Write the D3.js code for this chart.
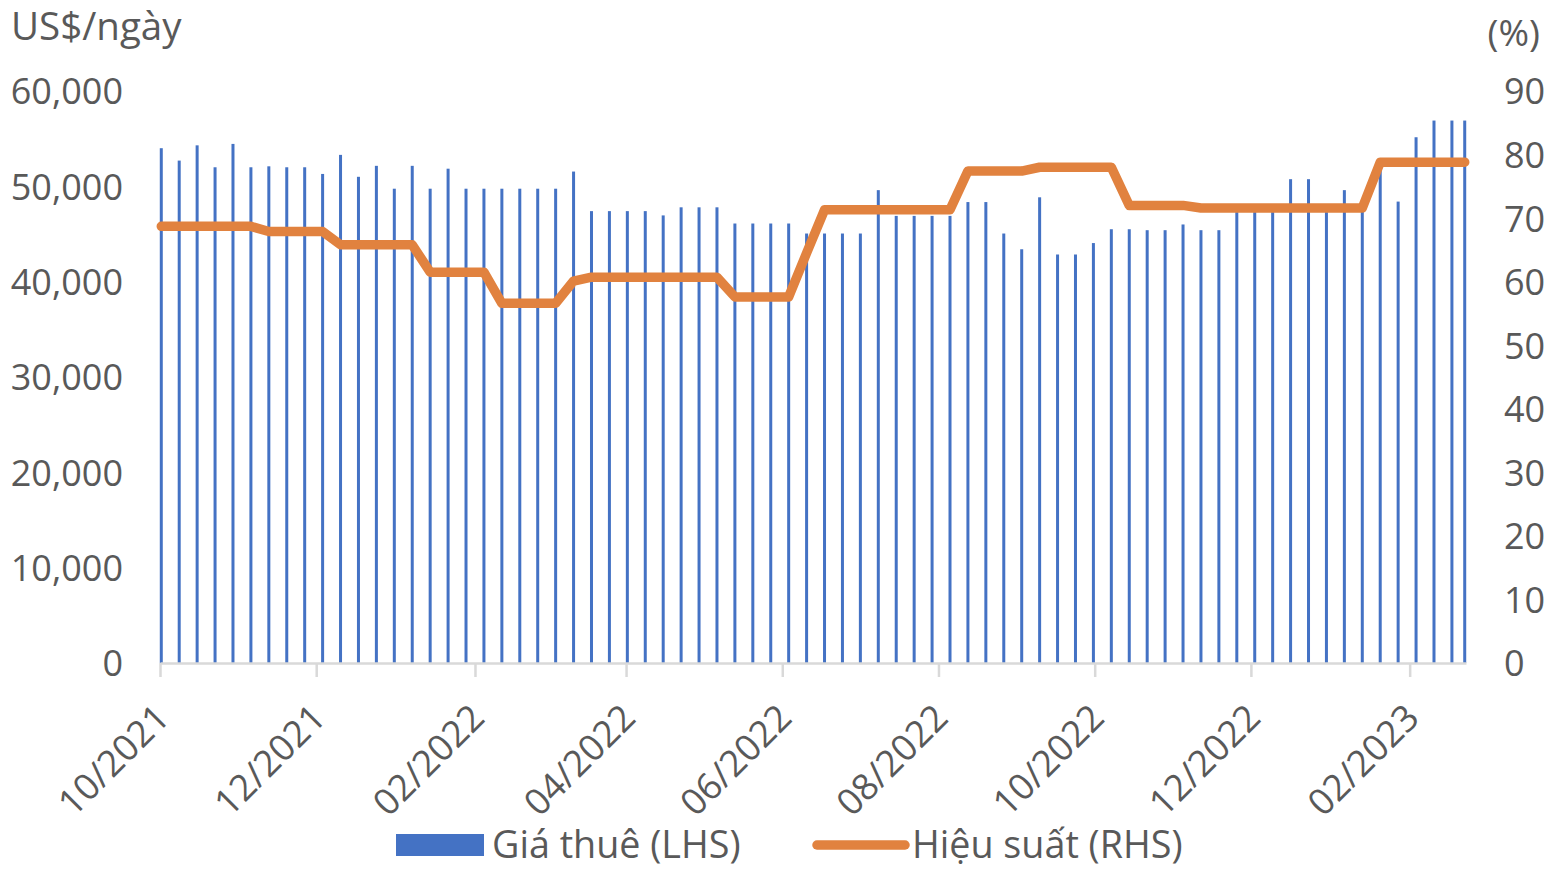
<!DOCTYPE html>
<html><head><meta charset="utf-8">
<script src="https://cdn.jsdelivr.net/npm/d3@7"></script>
<style>
body{margin:0;background:#fff;}
svg text{font-family:"Open Sans",sans-serif;fill:#595959;}
</style></head><body>
<svg id="chart" width="1566" height="878"></svg>
<script>
// ---- data ----
const dates = [
"2021-10-01","2021-10-08","2021-10-15","2021-10-22","2021-10-29",
"2021-11-05","2021-11-12","2021-11-19","2021-11-26",
"2021-12-03","2021-12-10","2021-12-17","2021-12-24","2021-12-31",
"2022-01-07","2022-01-14","2022-01-21","2022-01-28",
"2022-02-04","2022-02-11","2022-02-18","2022-02-25",
"2022-03-04","2022-03-11","2022-03-18","2022-03-25",
"2022-04-01","2022-04-08","2022-04-15","2022-04-22","2022-04-29",
"2022-05-06","2022-05-13","2022-05-20","2022-05-27",
"2022-06-03","2022-06-10","2022-06-17","2022-06-24",
"2022-07-01","2022-07-08","2022-07-15","2022-07-22","2022-07-29",
"2022-08-05","2022-08-12","2022-08-19","2022-08-26",
"2022-09-02","2022-09-09","2022-09-16","2022-09-23","2022-09-30",
"2022-10-07","2022-10-14","2022-10-21","2022-10-28",
"2022-11-04","2022-11-11","2022-11-18","2022-11-25",
"2022-12-02","2022-12-09","2022-12-16","2022-12-23","2022-12-30",
"2023-01-06","2023-01-13","2023-01-20","2023-01-27",
"2023-02-03","2023-02-10","2023-02-17","2023-02-22"
];
const charterRate = [
54000,52700,54300,52000,54450,
52000,52100,52000,52000,
51300,53300,51000,52150,49750,
52150,49750,51850,49750,
49750,49750,49750,49750,
49750,51550,47400,47400,
47400,47400,46950,47800,47800,
47800,46100,46100,46100,
46100,45050,45050,45050,
45050,49600,46900,46900,46900,
46900,48350,48350,45050,
43400,48850,42850,42850,44050,
45500,45500,45400,45400,
46000,45400,45400,47300,
47300,47300,50750,50750,47300,
49600,48100,52300,48400,
55150,56900,56900,56900
];
const efficiency = [
68.7,68.7,68.7,68.7,68.7,
68.7,67.9,67.9,67.9,
67.9,65.8,65.8,65.8,65.8,
65.8,61.5,61.5,61.5,
61.5,56.6,56.6,56.6,
56.6,60.1,60.7,60.7,
60.7,60.7,60.7,60.7,60.7,
60.7,57.6,57.6,57.6,
57.6,64.5,71.3,71.3,
71.3,71.3,71.3,71.3,71.3,
71.3,77.4,77.4,77.4,
77.4,78.0,78.0,78.0,78.0,
78.0,72.0,72.0,72.0,
72.0,71.6,71.6,71.6,
71.6,71.6,71.6,71.6,71.6,
71.6,71.6,78.8,78.8,
78.8,78.8,78.8,78.8
];
const leftTicks = [0,10000,20000,30000,40000,50000,60000];
const rightTicks = [0,10,20,30,40,50,60,70,80,90];
const xTickDates = ["2021-10-01","2021-12-01","2022-02-01","2022-04-01","2022-06-01","2022-08-01","2022-10-01","2022-12-01","2023-02-01"];
const xTickLabels = ["10/2021","12/2021","02/2022","04/2022","06/2022","08/2022","10/2022","12/2022","02/2023"];
const xDomain = ["2021-10-01","2023-02-23"];
const leftTitle = "US$/ngày";
const rightTitle = "(%)";
const seriesNames = ["Giá thuê (LHS)","Hiệu suất (RHS)"];

// ---- chart ----
const parse = d3.timeParse("%Y-%m-%d");
const svg = d3.select("#chart");
const blue = "#4472C4", orange = "#E1823F", grey = "#595959";
const FS = 36;

const x = d3.scaleTime().domain(xDomain.map(parse)).range([160, 1466]);
const yL = d3.scaleLinear().domain([0, 60000]).range([663, 91]);
const yR = d3.scaleLinear().domain([0, 90]).range([663, 91]);
const cx = d => x(d3.timeHour.offset(parse(d), 12));

const data = dates.map((d, i) => ({d, v: charterRate[i], e: efficiency[i]}));

// bars
svg.append("g").selectAll("rect").data(data).join("rect")
  .attr("x", d => cx(d.d) - 1.5)
  .attr("width", 3)
  .attr("y", d => yL(d.v))
  .attr("height", d => yL(0) - yL(d.v))
  .attr("fill", blue);

// x axis
const xAxis = d3.axisBottom(x)
  .tickValues(xTickDates.map(parse))
  .tickFormat((d, i) => xTickLabels[i])
  .tickSize(14).tickSizeOuter(0);
const gx = svg.append("g").attr("transform", "translate(0,663)").call(xAxis);
gx.select(".domain").attr("stroke", "#D9D9D9").attr("stroke-width", 2.5);
gx.selectAll(".tick line").attr("stroke", "#D9D9D9").attr("stroke-width", 2.5);
gx.selectAll(".tick text")
  .attr("x", 0).attr("y", 0).attr("dy", 0)
  .attr("text-anchor", "end")
  .attr("transform", "translate(11,57) rotate(-45)")
  .style("font-size", "36.5px").attr("fill", grey);

// left axis
const gl = svg.append("g").attr("transform", "translate(123,0)")
  .call(d3.axisLeft(yL).tickValues(leftTicks).tickFormat(d3.format(",")).tickSize(0).tickPadding(0));
gl.select(".domain").remove();
gl.selectAll(".tick text").attr("dy", "0.36em").style("font-size", FS + "px").attr("fill", grey);

// right axis
const gr = svg.append("g").attr("transform", "translate(1504,0)")
  .call(d3.axisRight(yR).tickValues(rightTicks).tickSize(0).tickPadding(0));
gr.select(".domain").remove();
gr.selectAll(".tick text").attr("dy", "0.36em").style("font-size", FS + "px").attr("fill", grey);

// line
const line = d3.line().x(d => cx(d.d)).y(d => yR(d.e));
svg.append("path").datum(data)
  .attr("d", line)
  .attr("fill", "none").attr("stroke", orange)
  .attr("stroke-width", 9.5).attr("stroke-linejoin", "round").attr("stroke-linecap", "round");

// titles
svg.append("text").attr("x", 11).attr("y", 40).style("font-size", "38.5px").text(leftTitle);
svg.append("text").attr("x", 1540).attr("y", 46).attr("text-anchor", "end").style("font-size", "37px").text(rightTitle);

// legend
const lg = svg.append("g");
lg.append("rect").attr("x", 396).attr("y", 834).attr("width", 88).attr("height", 22).attr("fill", blue);
lg.append("text").attr("x", 492).attr("y", 858).style("font-size", "37.7px").text(seriesNames[0]);
lg.append("line").attr("x1", 817).attr("x2", 905).attr("y1", 845).attr("y2", 845)
  .attr("stroke", orange).attr("stroke-width", 9.5).attr("stroke-linecap", "round");
lg.append("text").attr("x", 912).attr("y", 858).style("font-size", "37.7px").text(seriesNames[1]);
</script>
</body></html>
